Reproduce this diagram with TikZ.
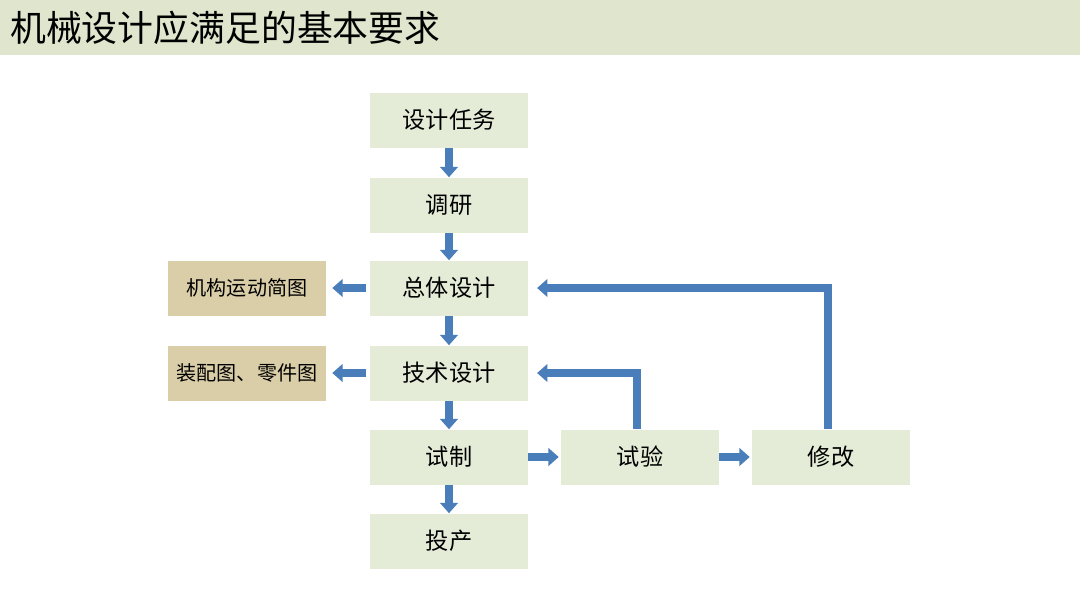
\documentclass[tikz,border=0pt]{standalone}
\usepackage{fontspec}
\setmainfont{Noto Sans CJK SC}
\usepackage{xcolor}
\usetikzlibrary{arrows.meta, positioning}

\definecolor{bandgreen}{RGB}{223,230,205}
\definecolor{boxgreen}{RGB}{228,236,215}
\definecolor{boxtan}{RGB}{218,206,168}
\definecolor{arrowblue}{RGB}{74,126,187}

\begin{document}
\begin{tikzpicture}[
  >={Triangle[width=0.44cm, length=0.26cm]},
  step box/.style={rectangle, fill=boxgreen, minimum width=3.95cm, minimum height=1.375cm, font=\fontsize{16.5}{19}\selectfont, align=center},
  doc box/.style={rectangle, fill=boxtan, minimum width=3.95cm, minimum height=1.375cm, font=\fontsize{14.3}{17}\selectfont, align=center},
  flow/.style={->, draw=arrowblue, line width=0.2cm},
]
  \useasboundingbox (0,0) rectangle (27,-15.2);
  \fill[white] (0,0) rectangle (27,-15.2);
  \fill[bandgreen] (0,0) rectangle (27,-1.375);
  \node[anchor=west, font=\fontsize{25.5}{28}\selectfont, inner sep=0pt] (title) at (0.25,-0.7) {机械设计应满足的基本要求};

  \node[step box] (rw) at (11.225,-3.0) {设计任务};
  \node[step box] (dy) at (11.225,-5.125) {调研};
  \node[step box] (zt) at (11.225,-7.2) {总体设计};
  \node[step box] (js) at (11.225,-9.325) {技术设计};
  \node[step box] (sz) at (11.225,-11.425) {试制};
  \node[step box] (tc) at (11.225,-13.525) {投产};
  \node[step box] (sy) at (16.0,-11.425) {试验};
  \node[step box] (xg) at (20.775,-11.425) {修改};
  \node[doc box] (jg) at (6.175,-7.2) {机构运动简图};
  \node[doc box] (zp) at (6.175,-9.325) {装配图、零件图};

  \draw[flow] (rw) -- (dy);
  \draw[flow] (dy) -- (zt);
  \draw[flow] (zt) -- (js);
  \draw[flow] (js) -- (sz);
  \draw[flow] (sz) -- (tc);
  \draw[flow, shorten <=0.1cm, shorten >=0.15cm] (zt) -- (jg);
  \draw[flow, shorten <=0.1cm, shorten >=0.15cm] (js) -- (zp);
  \draw[flow, shorten >=0.05cm] (sz) -- (sy);
  \draw[flow, shorten >=0.05cm] (sy) -- (xg);
  \draw[flow, shorten >=0.22cm] ([xshift=-0.08cm]sy.north) |- (js.east);
  \draw[flow, shorten >=0.22cm] ([xshift=-0.08cm]xg.north) |- (zt.east);
\end{tikzpicture}
\end{document}
